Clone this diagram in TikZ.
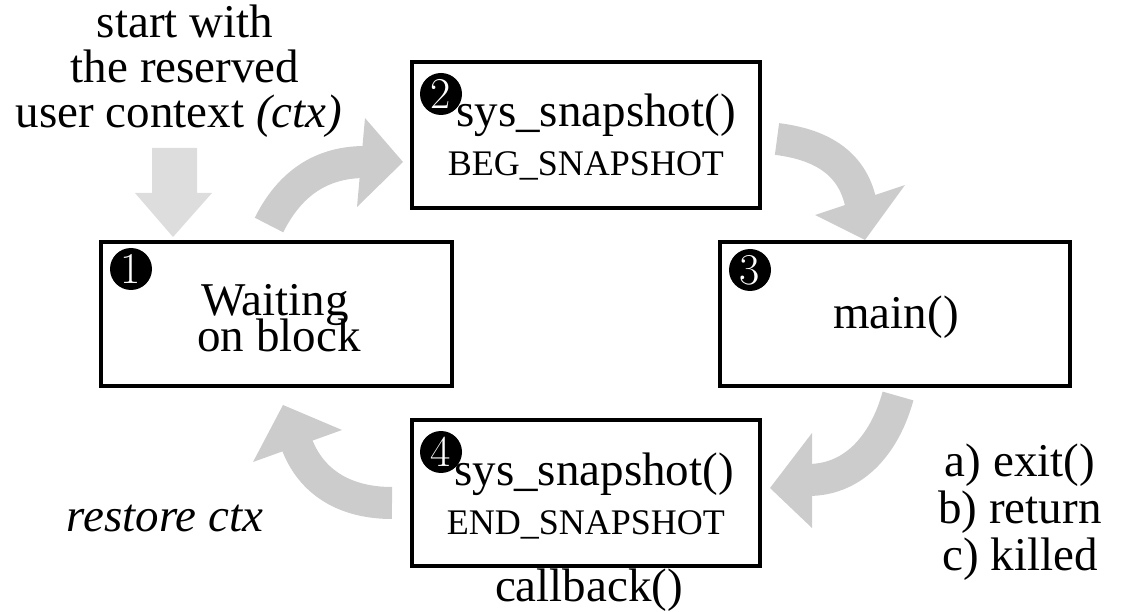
\documentclass[tikz,border=0pt]{standalone}
\usepackage{fontspec}
\newfontfamily\lib{Liberation Serif}
\definecolor{flowgray}{RGB}{204,204,204}
\definecolor{startgray}{RGB}{221,221,221}

\begin{document}
\begin{tikzpicture}[x=1pt,y=-1pt,
  stage/.style={draw=black,line width=3.5pt,inner sep=0pt,rectangle,fill=white},
  badge/.style={circle,fill=black,text=white,inner sep=0pt,minimum size=42pt,
    font=\fontsize{44}{44}\selectfont},
  txt/.style={anchor=base,inner sep=0pt,font=\lib\fontsize{47}{47}\selectfont},
  small/.style={anchor=base,inner sep=0pt,font=\lib\fontsize{36}{36}\selectfont},
  shaft/.style={draw=flowgray,line width=32pt},
  head/.style={fill=flowgray}
]
\useasboundingbox (0,0) rectangle (1128,612);

% entry arrow into the waiting state
\fill[startgray] (152,148) -- (197,148) -- (197,193) -- (212,193) -- (173,237)
  -- (135,193) -- (152,193) -- cycle;

% curved arrows of the cycle
\coordinate (a1s) at (269,225);
\coordinate (a1e) at (365,162);
\draw[shaft] (a1s) .. controls (287,189) and (316,162) .. (a1e);
\fill[head] (365,118) -- (357,207) -- (403,162) -- cycle;

\coordinate (a2s) at (777,139);
\coordinate (a2e) at (861,204);
\draw[shaft] (a2s) .. controls (817,144) and (852,160) .. (a2e);
\fill[head] (905,185) -- (815,215) -- (865,240) -- cycle;

\coordinate (a3s) at (898,396);
\coordinate (a3e) at (808,480);
\draw[shaft] (a3s) .. controls (886,440) and (857,480) .. (a3e);
\fill[head] (812,433) -- (812,528) -- (770,488) -- cycle;

\coordinate (a4s) at (392,503);
\coordinate (a4e) at (296,442);
\draw[shaft] (a4s) .. controls (347,503) and (311,484) .. (a4e);
\fill[head] (342,430) -- (253,462) -- (283,405) -- cycle;

% state boxes
\node[stage,minimum width=351pt,minimum height=144pt] (b1) at (276.5,314) {};
\node[stage,minimum width=348pt,minimum height=146pt] (b2) at (586,135) {};
\node[stage,minimum width=350pt,minimum height=144pt] (b3) at (895,314) {};
\node[stage,minimum width=348pt,minimum height=146pt] (b4) at (586,493) {};

% numbered badges
\node[badge] (n1) at (131,269) {1};
\node[badge] (n2) at (441,94) {2};
\node[badge] (n3) at (750,270) {3};
\node[badge] (n4) at (441,452) {4};

% texts
\node[txt] (t1) at (185,38) {start with};
\node[txt] (t2) at (185,83) {the reserved};
\node[txt] (t3) at (179,128) {user context \textit{(ctx)}};

\node[txt] (w1) at (275,316) {Waiting};
\node[txt] (w2) at (279,352) {on block};

\node[txt] (m1) at (896,329) {main()};

\node[txt] (s1) at (596,127) {sys\_snapshot()};
\node[small] (s2) at (586,176) {BEG\_SNAPSHOT};

\node[txt] (e1) at (594,485) {sys\_snapshot()};
\node[small] (e2) at (586,534) {END\_SNAPSHOT};

\node[txt] (cb) at (589,601) {callback()};
\node[txt] (rc) at (165,531) {\textit{restore ctx}};

\node[txt] (x1) at (1020,476) {a) exit()};
\node[txt] (x2) at (1020,523) {b) return};
\node[txt] (x3) at (1020,570) {c) killed};
\end{tikzpicture}
\end{document}
